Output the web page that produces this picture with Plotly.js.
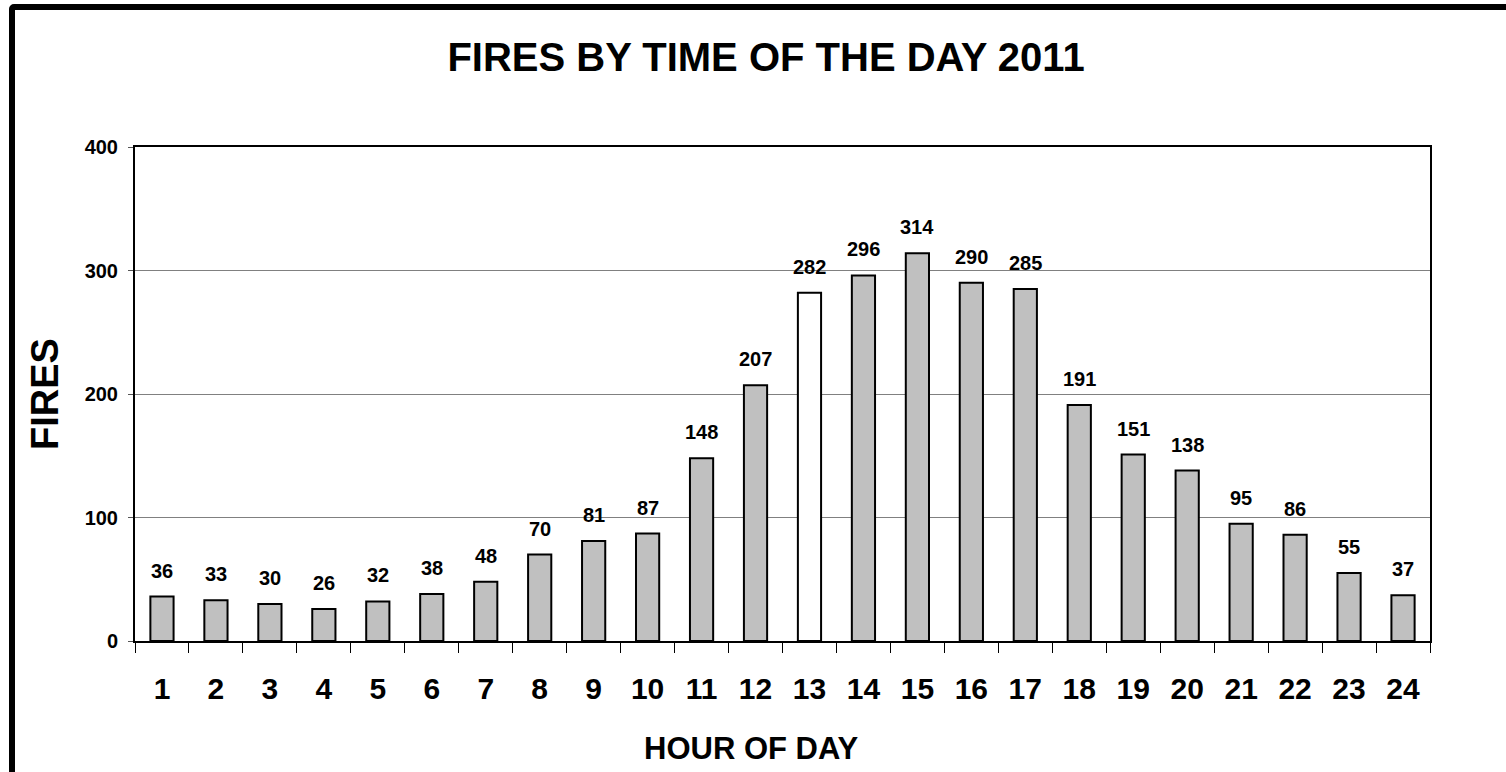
<!DOCTYPE html>
<html>
<head>
<meta charset="utf-8">
<script src="https://cdn.plot.ly/plotly-3.0.1.min.js"></script>
<style>
  html, body { margin: 0; padding: 0; background: #fff; overflow: hidden; }
  #chart { position: absolute; left: 0; top: 0; width: 1506px; height: 772px; }
  #frame {
    position: absolute; left: 9px; top: 4px; width: 1560px; height: 820px;
    border: 6px solid #000; border-radius: 5px; pointer-events: none; z-index: 10;
  }
</style>
</head>
<body>
<div id="chart"></div>
<div id="frame"></div>
<script>
// hour of day and number of fires
const hours = ['1','2','3','4','5','6','7','8','9','10','11','12',
               '13','14','15','16','17','18','19','20','21','22','23','24'];
const fires = [36, 33, 30, 26, 32, 38, 48, 70, 81, 87, 148, 207,
               282, 296, 314, 290, 285, 191, 151, 138, 95, 86, 55, 37];
const yTicks = [0, 100, 200, 300, 400];
const highlightHour = '13';   // the one bar drawn white

const font = 'Liberation Sans, Arial, sans-serif';
const barColors = hours.map(h => h === highlightHour ? '#ffffff' : '#c0c0c0');

const bars = {
  type: 'bar',
  x: hours,
  y: fires,
  marker: { color: barColors, line: { color: '#000', width: 2 } },
  hoverinfo: 'x+y'
};

// value labels sit a bit above each bar (annotation x on a category axis = index)
const labels = hours.map((h, i) => ({
  x: i, y: fires[i], xref: 'x', yref: 'y',
  text: String(fires[i]), showarrow: false,
  yanchor: 'bottom', yshift: 13,
  font: { family: font, size: 20, color: '#000', weight: 'bold' }
}));

// x axis title, a little left of the plot centre as in the original
labels.push({
  xref: 'paper', yref: 'paper', x: 0.4757, y: 0,
  xanchor: 'center', yanchor: 'middle', yshift: -107,
  text: 'HOUR OF DAY', showarrow: false,
  font: { family: font, size: 31, color: '#000', weight: 'bold' }
});

const layout = {
  width: 1506, height: 772,
  margin: { l: 135, r: 76, t: 147, b: 131 },
  paper_bgcolor: '#fff', plot_bgcolor: '#fff',
  showlegend: false,
  bargap: 0.57,
  title: {
    text: 'FIRES BY TIME OF THE DAY 2011',
    font: { family: font, size: 40, color: '#000', weight: 'bold' },
    xref: 'container', yref: 'container',
    x: 766 / 1506, y: 1 - 57 / 772, xanchor: 'center', yanchor: 'middle'
  },
  xaxis: {
    type: 'category',
    showline: true, linecolor: '#000', linewidth: 2, mirror: true,
    ticks: 'outside', tickson: 'boundaries', ticklen: 10, tickwidth: 1, tickcolor: '#000',
    ticklabelstandoff: 20,
    tickfont: { family: font, size: 30, color: '#000', weight: 'bold' },
    showgrid: false, zeroline: false
  },
  yaxis: {
    range: [0, 400], tickvals: yTicks, ticktext: yTicks.map(String),
    showline: true, linecolor: '#000', linewidth: 2, mirror: true,
    ticks: 'outside', ticklen: 5, tickwidth: 1, tickcolor: '#555',
    ticklabelstandoff: 6,
    tickfont: { family: font, size: 20, color: '#000', weight: 'bold' },
    showgrid: true, gridcolor: '#808080', gridwidth: 1, zeroline: false,
    title: {
      text: 'FIRES', standoff: 14,
      font: { family: font, size: 38, color: '#000', weight: 'bold' }
    }
  },
  annotations: labels
};

Plotly.newPlot('chart', [bars], layout, { displayModeBar: false, staticPlot: true });
</script>
</body>
</html>
